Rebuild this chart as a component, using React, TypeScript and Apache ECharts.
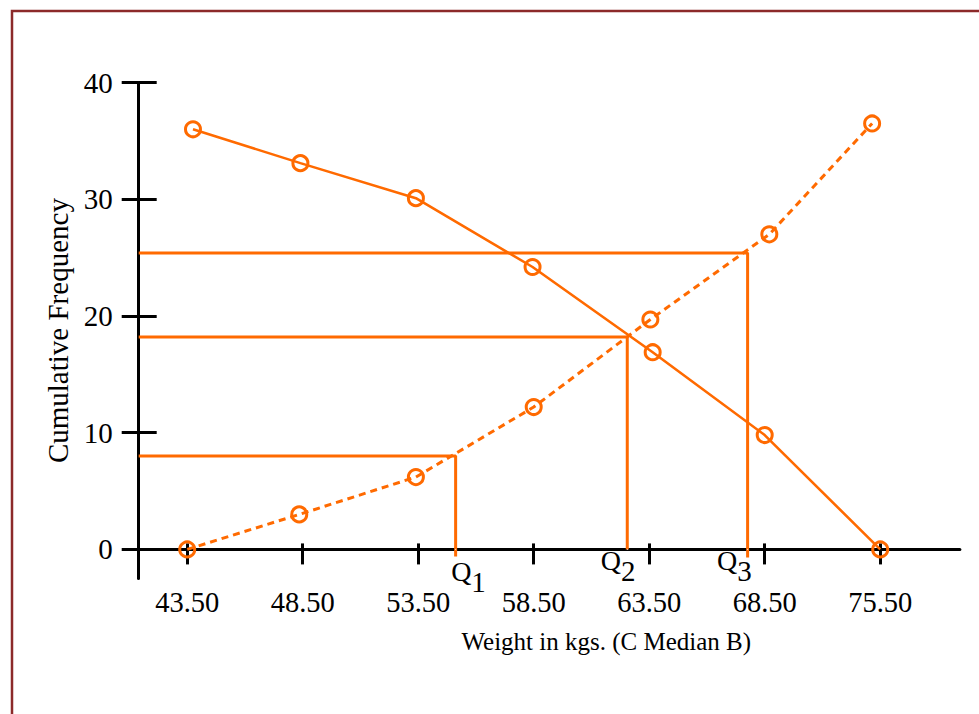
import React, { useEffect, useRef } from 'react';
import * as echarts from 'echarts';

// ---- data (x positions are along the evenly spaced class-boundary axis, in tick units) ----
const xLabels = ['43.50', '48.50', '53.50', '58.50', '63.50', '68.50', '75.50'];
const xTickPositions = [0, 1, 2, 3, 4, 5, 6];
const yTicks = [0, 10, 20, 30, 40];

// "less than" ogive (dotted)
const lessThanPos = [0, 0.97, 1.98, 3.0, 4.01, 5.04, 5.93];
const lessThanFreq = [0, 3.0, 6.2, 12.2, 19.7, 27.0, 36.5];

// "more than" ogive (solid)
const moreThanPos = [0.05, 0.98, 1.98, 2.99, 4.03, 5.0, 6.0];
const moreThanFreq = [36.0, 33.1, 30.1, 24.2, 16.9, 9.8, 0];

// quartiles
const quartileSubs = ['1', '2', '3'];
const quartileWeights = [55.12, 62.55, 67.76];
const quartileFreq = [8.0, 18.2, 25.4];
const quartileFoot = [-0.6, 0, -0.7];

const FONT = '"Liberation Serif", "Times New Roman", serif';
const ORANGE = '#ff6a00';
const X_MIN = -0.42;
const X_MAX = 6.69;
const Y_MIN = -2.5;
const Y_MAX = 40;

const weightToPos = (w: number) => (w - 43.5) / 5;

export default function App() {
  const ref = useRef<HTMLDivElement>(null);

  useEffect(() => {
    if (!ref.current) return;
    const chart = echarts.init(ref.current, undefined, { renderer: 'svg' });

    const axisLineStyle = { color: '#000', width: 3 };

    const quartileLineSeries = quartileWeights.map((w, i) => ({
      type: 'line',
      name: 'Q' + quartileSubs[i],
      data: [
        [X_MIN, quartileFreq[i]],
        [weightToPos(w), quartileFreq[i]],
        [weightToPos(w), quartileFoot[i]],
      ],
      symbol: 'none',
      lineStyle: { color: ORANGE, width: 3 },
      z: 2,
      silent: true,
    }));

    const labelOffsets = [
      [-4, 7],
      [-26, -4],
      [-30, -4],
    ];

    const option: any = {
      animation: false,
      backgroundColor: '#fff',
      graphic: [
        {
          type: 'rect',
          shape: { x: 12, y: 11, width: 1000, height: 800 },
          style: { fill: 'none', stroke: '#8c2a2a', lineWidth: 2.5 },
          z: 100,
        },
      ],
      grid: {
        left: 138.7,
        right: 19.1,
        top: 82.6,
        bottom: 135.4,
        containLabel: false,
        outerBoundsMode: 'none',
      },
      xAxis: [
        {
          type: 'value',
          min: X_MIN,
          max: X_MAX,
          position: 'bottom',
          axisLine: { show: true, onZero: true, onZeroAxisIndex: 0, lineStyle: axisLineStyle },
          axisTick: {
            show: true,
            inside: false,
            length: 15,
            customValues: xTickPositions,
            lineStyle: axisLineStyle,
          },
          axisLabel: {
            show: true,
            customValues: xTickPositions,
            formatter: (v: number) => xLabels[Math.round(v)] ?? '',
            margin: 9,
            color: '#000',
            fontFamily: FONT,
            fontSize: 28.5,
          },
          splitLine: { show: false },
          name: 'Weight in kgs. (C Median B)',
          nameLocation: 'middle',
          nameGap: 50,
          nameTextStyle: {
            color: '#000',
            fontFamily: FONT,
            fontSize: 25,
            padding: [0, 0, 0, 114],
          },
        },
        {
          type: 'value',
          min: X_MIN,
          max: X_MAX,
          position: 'bottom',
          axisLine: { show: false, onZero: true, onZeroAxisIndex: 0 },
          axisTick: {
            show: true,
            inside: true,
            length: 6,
            customValues: xTickPositions,
            lineStyle: axisLineStyle,
          },
          axisLabel: { show: false },
          splitLine: { show: false },
        },
      ],
      yAxis: [
        {
          type: 'value',
          min: Y_MIN,
          max: Y_MAX,
          position: 'left',
          axisLine: { show: true, onZero: false, lineStyle: axisLineStyle },
          axisTick: {
            show: true,
            inside: false,
            length: 17,
            customValues: yTicks,
            lineStyle: axisLineStyle,
          },
          axisLabel: {
            show: true,
            customValues: yTicks,
            margin: 26,
            color: '#000',
            fontFamily: FONT,
            fontSize: 29,
          },
          splitLine: { show: false },
          name: 'Cumulative Frequency',
          nameLocation: 'middle',
          nameGap: 66,
          nameRotate: 90,
          nameTextStyle: { color: '#000', fontFamily: FONT, fontSize: 29 },
        },
        {
          type: 'value',
          min: Y_MIN,
          max: Y_MAX,
          position: 'left',
          axisLine: { show: false, onZero: false },
          axisTick: {
            show: true,
            inside: true,
            length: 18,
            customValues: yTicks,
            lineStyle: axisLineStyle,
          },
          axisLabel: { show: false },
          splitLine: { show: false },
        },
      ],
      series: [
        ...quartileLineSeries,
        {
          type: 'line',
          name: 'Less than',
          data: lessThanPos.map((p, i) => [p, lessThanFreq[i]]),
          symbol: 'circle',
          symbolSize: 15,
          itemStyle: { color: 'rgba(0,0,0,0)', borderColor: ORANGE, borderWidth: 3 },
          lineStyle: { color: ORANGE, width: 3, type: [7, 5] },
          z: 3,
        },
        {
          type: 'line',
          name: 'More than',
          data: moreThanPos.map((p, i) => [p, moreThanFreq[i]]),
          symbol: 'circle',
          symbolSize: 15,
          itemStyle: { color: 'rgba(0,0,0,0)', borderColor: ORANGE, borderWidth: 3 },
          lineStyle: { color: ORANGE, width: 2.6 },
          z: 3,
        },
        {
          type: 'scatter',
          name: 'Quartile labels',
          symbolSize: 1,
          itemStyle: { color: '#fff', opacity: 1 },
          data: quartileWeights.map((w, i) => ({
            value: [weightToPos(w), 0],
            label: { position: labelOffsets[i] },
          })),
          label: {
            show: true,
            align: 'left',
            verticalAlign: 'top',
            color: '#000',
            opacity: 1,
            textBorderWidth: 0,
            formatter: (p: any) => `{q|Q}{s|${quartileSubs[p.dataIndex]}}`,
            rich: {
              q: {
                fontFamily: FONT,
                fontSize: 28,
                lineHeight: 32,
                color: '#000',
                textBorderWidth: 0,
              },
              s: {
                fontFamily: FONT,
                fontSize: 29,
                lineHeight: 32,
                color: '#000',
                textBorderWidth: 0,
                padding: [20, 0, 0, 0],
              },
            },
          },
          z: 4,
          silent: true,
        },
      ],
    };

    chart.setOption(option);
    return () => chart.dispose();
  }, []);

  return (
    <div
      ref={ref}
      style={{ position: 'fixed', left: 0, top: 0, width: 979, height: 714, background: '#fff' }}
    />
  );
}
